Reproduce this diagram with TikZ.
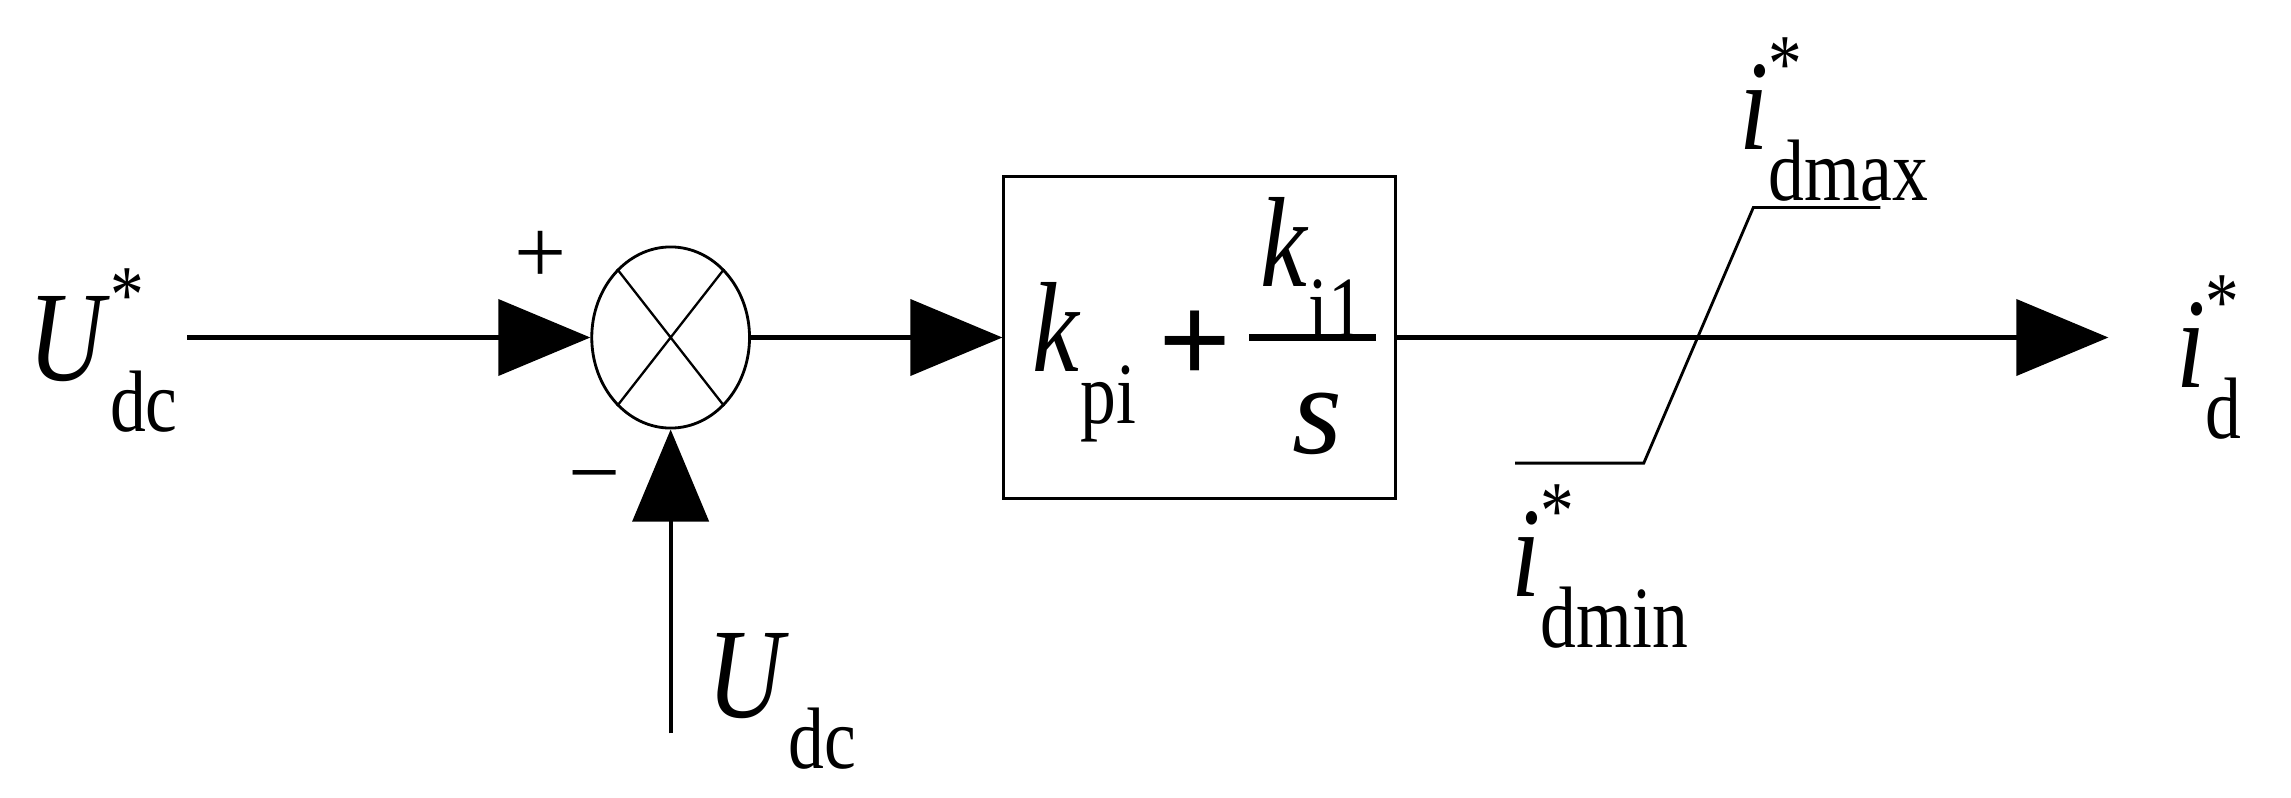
\documentclass[tikz,border=0pt]{standalone}
\usepackage{fontspec}
\setmainfont{Liberation Serif}
\usetikzlibrary{arrows.meta,shapes.geometric}
\newcommand\mylab[3]{\scalebox{0.82}[1]{\fontsize{50}{52}\selectfont\textit{#1}\makebox[0pt][l]{\raisebox{0.45em}{\fontsize{32}{32}\selectfont #3}}\raisebox{-0.4em}{\fontsize{34}{34}\selectfont #2}}}
\begin{document}
\begin{tikzpicture}[x=0.02cm,y=-0.02cm,
  wire/.style={line width=1.6pt},
  tip/.style={-{Triangle[length=1.26cm,width=1.04cm]}},
  lbl/.style={inner sep=0pt}]
\useasboundingbox (0,0) rectangle (1568,546);
\node[ellipse,draw,line width=1.1pt,minimum width=2.16cm,minimum height=2.48cm,inner sep=0pt] (sum) at (459,231) {};
\draw[line width=0.9pt] (sum.128) -- (sum.-52) (sum.52) -- (sum.-128);
\node[draw,line width=1.1pt,minimum width=5.36cm,minimum height=4.4cm] (pi) at (821,231) {};
\node[lbl] (kpi) at (742,248) {\mylab{k}{pi}{}};
\node[lbl] (plus) at (818,238) {\fontsize{50}{50}\selectfont\bfseries +};
\node[lbl] (ki) at (898,183) {\mylab{k}{i1}{}};
\node[lbl] (s) at (902,290) {\fontsize{50}{50}\selectfont\textit{s}};
\draw[line width=2.4pt] (855,231) -- (942,231);
\node[lbl,anchor=east] (uref) at (122,240) {\mylab{U}{dc}{*}};
\node[lbl] (udc) at (535,480) {\mylab{U}{dc}{}};
\node[lbl] (pl) at (370,176) {\fontsize{36}{36}\selectfont +};
\node[lbl] (mi) at (407,333) {\fontsize{36}{36}\selectfont −};
\coordinate (fb) at (459,502);
\coordinate (out) at (1443,231);
\draw[wire,tip] (uref.east |- sum.west) ++(6,0) -- (sum.west);
\draw[wire,tip] (fb) -- (sum.south);
\draw[wire,tip] (sum.east) -- (pi.west);
\draw[wire,tip] (pi.east) -- (out);
\node[lbl] (id) at (1512,245) {\mylab{i}{d}{*}};
\draw[line width=1.1pt] (1037,317) -- (1125,317) -- (1200,142) -- (1287,142);
\node[lbl] (imax) at (1255,82) {\mylab{i}{dmax}{*}};
\node[lbl] (imin) at (1095,388) {\mylab{i}{dmin}{*}};
\end{tikzpicture}
\end{document}
